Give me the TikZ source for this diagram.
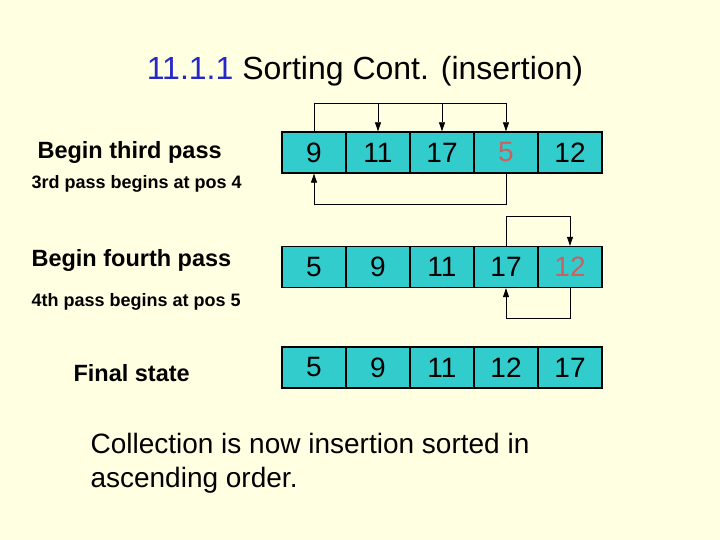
\documentclass[tikz,border=0pt]{standalone}
\usepackage{fontspec}
\setmainfont{Liberation Sans}
\usetikzlibrary{arrows.meta}
\usetikzlibrary{positioning}
\definecolor{bgyellow}{RGB}{255,255,225}
\definecolor{cellteal}{RGB}{51,204,204}
\definecolor{titleblue}{RGB}{40,40,200}
\definecolor{keyred}{RGB}{205,95,95}

\tikzset{
  cell/.style={draw=black, line width=1.4pt, fill=cellteal, minimum width=64pt, minimum height=41pt, inner sep=0pt, font=\fontsize{28}{28}\selectfont},
  label/.style={anchor=west, font=\bfseries\fontsize{23.5}{23.5}\selectfont},
  note/.style={anchor=west, font=\bfseries\fontsize{18}{18}\selectfont},
  link/.style={black, line width=0.8pt, -{Triangle[length=9pt,width=6pt]}}
}

\begin{document}
\begin{tikzpicture}[x=1pt,y=-1pt]

\fill[bgyellow] (0,0) rectangle (720,540);
\useasboundingbox (0,0) rectangle (720,540);

\node[anchor=base, font=\fontsize{32}{32}\selectfont] (title) at (365,80) {\textcolor{titleblue}{11.1.1} Sorting Cont. (insertion)};

% third pass
\node[cell] (a1) at (314,152.5) {9};
\node[cell, right=-1.4pt of a1] (a2) {11};
\node[cell, right=-1.4pt of a2] (a3) {17};
\node[cell, right=-1.4pt of a3] (a4) {\textcolor{keyred}{5}};
\node[cell, right=-1.4pt of a4] (a5) {12};

% fourth pass
\node[cell] (b1) at (314,267) {5};
\node[cell, right=-1.4pt of b1] (b2) {9};
\node[cell, right=-1.4pt of b2] (b3) {11};
\node[cell, right=-1.4pt of b3] (b4) {17};
\node[cell, right=-1.4pt of b4] (b5) {\textcolor{keyred}{12}};

% final
\node[cell] (c1) at (314,367.5) {5};
\node[cell, right=-1.4pt of c1] (c2) {9};
\node[cell, right=-1.4pt of c2] (c3) {11};
\node[cell, right=-1.4pt of c3] (c4) {12};
\node[cell, right=-1.4pt of c4] (c5) {17};

\node[label] (l1) at (34,152) {Begin third pass};
\node[note] (n1) at (28,184) {3rd pass begins at pos 4};
\node[label] (l2) at (28,260) {Begin fourth pass};
\node[note] (n2) at (28,302) {4th pass begins at pos 5};
\node[label] (l3) at (70,373) {Final state};

\node[anchor=north west, align=left, font=\fontsize{28}{34}\selectfont] (txt) at (87,430) {Collection is now insertion sorted in\\ascending order.};

% moves, third pass
\coordinate (t) at (0,103);
\draw[line width=0.8pt] (a1.north) -- (a1.north |- t) -- (a4.north |- t);
\draw[link] (a2.north |- t) -- (a2.north);
\draw[link] (a3.north |- t) -- (a3.north);
\draw[link] (a4.north |- t) -- (a4.north);
\coordinate (u) at (0,204);
\draw[link] (a4.south) -- (a4.south |- u) -- (a1.south |- u) -- (a1.south);

% moves, fourth pass
\coordinate (v) at (0,216);
\draw[link] (b4.north) -- (b4.north |- v) -- (b5.north |- v) -- (b5.north);
\coordinate (w) at (0,318);
\draw[link] (b5.south) -- (b5.south |- w) -- (b4.south |- w) -- (b4.south);

\end{tikzpicture}
\end{document}
